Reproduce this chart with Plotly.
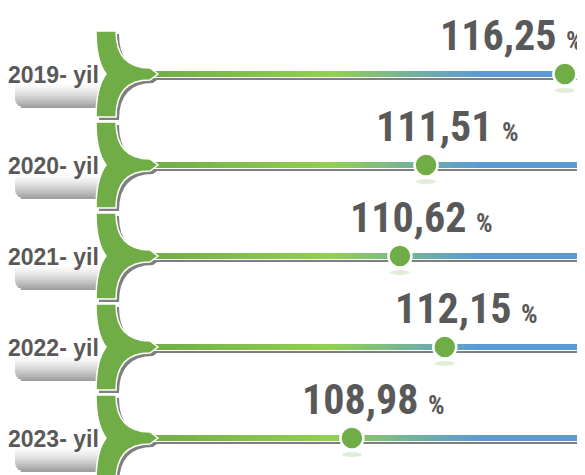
import plotly.graph_objects as go

years = ["2019- yil", "2020- yil", "2021- yil", "2022- yil", "2023- yil"]
values = [116.25, 111.51, 110.62, 112.15, 108.98]
value_labels = ["116,25", "111,51", "110,62", "112,15", "108,98"]

W, H = 585, 475
PAGE = 8                    # the page body margin pushes the figure 8px right/down
ROW0, GAP = 74, 91          # screen y of first row line, row spacing
X_RANGE = [97.24, 117.21]   # value axis spread across the full width

TEXT = "#595959"
GREEN = "#70AD47"
SHADOW = "#7f7f7f"
STOPS = [(0.0, "#70AD47"), (0.42, "#92D050"), (0.76, "#5B9BD5"), (1.0, "#5B9BD5")]


def px(x):
    return (x - PAGE) / W


def py(y):
    return 1 - (y - PAGE) / H


def hex2rgb(h):
    return [int(h[i:i + 2], 16) for i in (1, 3, 5)]


def grad(t):
    for (t0, c0), (t1, c1) in zip(STOPS[:-1], STOPS[1:]):
        if t <= t1:
            f = (t - t0) / (t1 - t0) if t1 > t0 else 0
            a, b = hex2rgb(c0), hex2rgb(c1)
            return "rgb(%d,%d,%d)" % tuple(round(a[k] + (b[k] - a[k]) * f) for k in range(3))
    return STOPS[-1][1]


def rect(x0, y0, x1, y1, color):
    return dict(type="rect", xref="paper", yref="paper", layer="below",
                x0=px(x0), x1=px(x1), y0=py(y1), y1=py(y0),
                fillcolor=color, line_width=0)


def bracket(cy, dx=0, dy=0):
    def p(x, y):
        return "%.5f,%.5f" % (px(x + dx), py(y + dy))
    return ("M " + p(96, cy - 43) + " L " + p(116, cy - 43)
            + " Q " + p(116, cy - 6) + " " + p(150, cy - 6)
            + " L " + p(158, cy) + " L " + p(150, cy + 6)
            + " Q " + p(116, cy + 6) + " " + p(116, cy + 43)
            + " L " + p(96, cy + 43)
            + " C " + p(96, cy + 20) + " " + p(100, cy + 8) + " " + p(106, cy)
            + " C " + p(100, cy - 8) + " " + p(96, cy - 20) + " " + p(96, cy - 43) + " Z")


shapes = []
annotations = []
num_font = dict(family="Roboto Condensed, Liberation Sans Narrow, Liberation Sans, Arial",
                size=42, color=TEXT, weight="bold")

for i, (yr, v, lab) in enumerate(zip(years, values, value_labels)):
    cy = ROW0 + GAP * i

    # grey label plate under the year text
    bx0, bx1, by0, by1, r = 15, 102, cy + 10, cy + 34, 10
    n = 12
    for k in range(n):
        y0 = by0 + (by1 - by0) * k / n
        y1 = by0 + (by1 - by0) * (k + 1) / n
        d = by1 - (y0 + y1) / 2
        left = bx0
        if d < r:
            left = bx0 + r - (r * r - (r - d) ** 2) ** 0.5
        g = round(250 - 90 * (k / (n - 1)) ** 1.3)
        shapes.append(rect(left, y0, bx1, y1, "rgb(%d,%d,%d)" % (g, g, g)))

    # bar shadow, white rim, gradient bar, then the green bracket on top
    shapes.append(rect(153, cy, 583, cy + 6, SHADOW))
    shapes.append(dict(type="path", xref="paper", yref="paper", layer="below",
                       path=bracket(cy, 3, 3), fillcolor=SHADOW, line_width=0))
    shapes.append(rect(149, cy - 4, 581.5, cy + 4, "white"))
    x_start, x_end, segs = 150, 580, 70
    for k in range(segs):
        a = x_start + (x_end - x_start) * k / segs
        b = x_start + (x_end - x_start) * (k + 1) / segs
        shapes.append(rect(a, cy - 3, b + 0.6, cy + 3, grad((k + 0.5) / segs)))
    shapes.append(dict(type="path", xref="paper", yref="paper", layer="below",
                       path=bracket(cy), fillcolor=GREEN,
                       line=dict(color="white", width=1.5)))

    # faint reflection under the dot
    shapes.append(dict(type="circle", xref="x", yref="y", layer="below",
                       xsizemode="pixel", ysizemode="pixel", xanchor=v, yanchor=i,
                       x0=-10, x1=10, y0=-19, y1=-14,
                       fillcolor="rgba(112,173,71,0.22)", line_width=0))

    annotations.append(dict(x=px(101), y=py(cy + 1), xref="paper", yref="paper",
                            xanchor="right", yanchor="middle", showarrow=False,
                            text=yr, font=dict(family="Liberation Sans, Arial", size=23,
                                               color=TEXT, weight="bold")))

    mx = PAGE + (v - X_RANGE[0]) / (X_RANGE[1] - X_RANGE[0]) * W
    label = lab + " <span style='font-size:26px'>%</span>"
    if mx - 50 + 140 > 584:
        annotations.append(dict(x=px(585), y=i, xref="paper", yref="y",
                                xanchor="right", yanchor="bottom", yshift=12,
                                showarrow=False, text=label, font=num_font))
    else:
        annotations.append(dict(x=v, y=i, xref="x", yref="y", xanchor="left",
                                yanchor="bottom", xshift=-52, yshift=12,
                                showarrow=False, text=label, font=num_font))

fig = go.Figure()
fig.add_trace(go.Scatter(
    x=values, y=list(range(len(values))), mode="markers",
    marker=dict(size=23, color=GREEN, line=dict(color="white", width=2.5)),
    hoverinfo="skip", showlegend=False))

y_top = -(ROW0 - PAGE) / GAP
fig.update_layout(
    width=W, height=H,
    margin=dict(l=0, r=0, t=0, b=0),
    paper_bgcolor="white", plot_bgcolor="white",
    xaxis=dict(range=X_RANGE, visible=False, fixedrange=True),
    yaxis=dict(range=[y_top + H / GAP, y_top], visible=False, fixedrange=True),
    shapes=shapes,
    annotations=annotations,
)

fig.write_html("out.html")
